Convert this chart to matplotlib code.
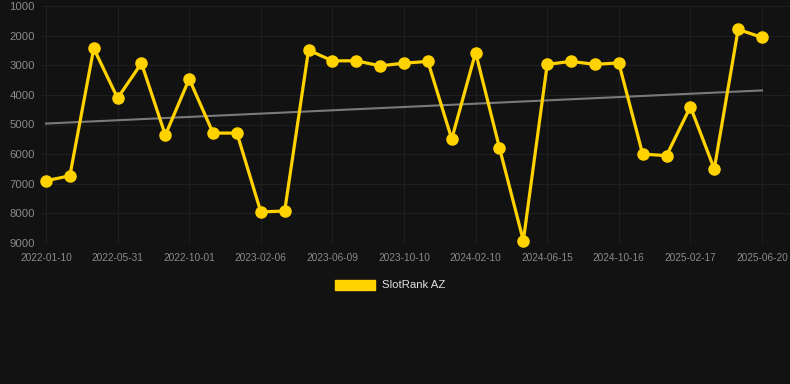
import numpy as np
import matplotlib
matplotlib.use("Agg")
import matplotlib.pyplot as plt
from matplotlib.patches import Patch

# rank values (lower is better, axis inverted)
ranks = [6900, 6730, 2430, 4110, 2930, 5360, 3460, 5290, 5290, 7950, 7920,
         2490, 2850, 2850, 3020, 2930, 2870, 5490, 2570, 5790, 8920,
         2970, 2870, 2970, 2920, 6000, 6050, 4400, 6500, 1790, 2060]
tick_labels = ["2022-01-10", "2022-05-31", "2022-10-01", "2023-02-06",
               "2023-06-09", "2023-10-10", "2024-02-10", "2024-06-15",
               "2024-10-16", "2025-02-17", "2025-06-20"]
y_ticks = [1000, 2000, 3000, 4000, 5000, 6000, 7000, 8000, 9000]
series_name = "SlotRank AZ"

bg = "#121212"
yellow = "#FFD200"
W, H = 790, 384

fig = plt.figure(figsize=(W / 100, H / 100), dpi=100, facecolor=bg)
ax = fig.add_axes([42 / W, 1 - 243 / H, (790 - 42) / W, (243 - 6) / H])
ax.set_facecolor(bg)

x = np.arange(len(ranks))
# trend line
k, b = np.polyfit(x, ranks, 1)
ax.plot(x, k * x + b, color="#7a7a7a", lw=1.5, zorder=2)

ax.plot(x, ranks, color=yellow, lw=2.3, marker="o", ms=8,
        markerfacecolor=yellow, markeredgecolor=yellow, zorder=3, clip_on=False)

step = 23.87
ax.set_xlim(-4 / step, len(ranks) - 1 + 28 / step)
ax.set_ylim(9000, 1000)
ax.set_xticks(x[::3])
ax.set_xticklabels(tick_labels)
ax.set_yticks(y_ticks)
ax.set_yticklabels([str(v) for v in y_ticks])

for s in ax.spines.values():
    s.set_visible(False)
ax.grid(True, color="#1f1f1f", lw=0.8)
ax.set_axisbelow(True)
ax.tick_params(length=0, colors="#8a8a8a")
for t in ax.get_xticklabels():
    t.set_fontfamily("Liberation Sans")
    t.set_fontsize(7.3)
for t in ax.get_yticklabels():
    t.set_fontfamily("Liberation Sans")
    t.set_fontsize(8.2)
ax.tick_params(axis="x", pad=7)
ax.tick_params(axis="y", pad=5)

leg = fig.legend(handles=[Patch(facecolor=yellow, edgecolor=yellow, label=series_name)],
                 loc="center", bbox_to_anchor=(0.5 - 5 / W, 1 - 285 / H), frameon=False,
                 prop={"family": "Liberation Sans", "size": 8.2},
                 handlelength=3.5, handleheight=1.0, handletextpad=0.6)
for t in leg.get_texts():
    t.set_color("#e0e0e0")

fig.savefig("out.png", dpi=100, facecolor=bg)
